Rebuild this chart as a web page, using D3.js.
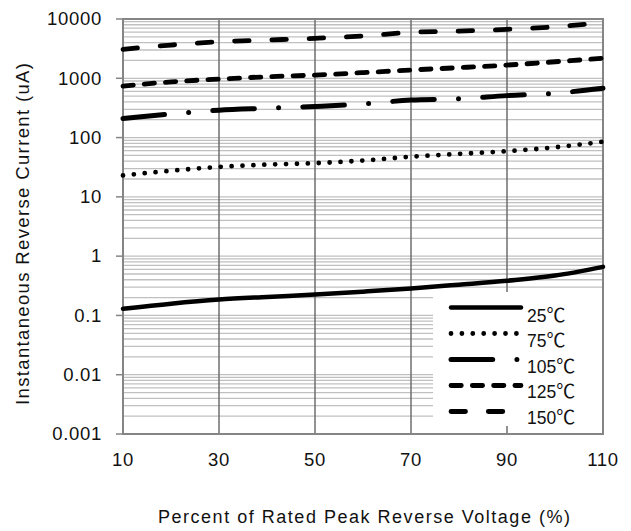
<!DOCTYPE html>
<html>
<head>
<meta charset="utf-8">
<script src="https://cdn.jsdelivr.net/npm/d3@7"></script>
<style>
  html, body { margin: 0; padding: 0; background: #fff; }
  svg { display: block; }
</style>
</head>
<body>
<svg id="chart" width="631" height="531" font-family="Arial, 'Liberation Sans', Helvetica, sans-serif"></svg>
<script>
// ---- data ----
const xValues = [10, 20, 30, 40, 50, 60, 70, 80, 90, 100, 110];
const seriesNames = ["25℃", "75℃", "105℃", "125℃", "150℃"];
const s25  = [0.13, 0.158, 0.185, 0.205, 0.225, 0.252, 0.285, 0.33, 0.385, 0.47, 0.66];
const s75  = [23, 27.6, 32, 35, 37, 41, 47.5, 53, 59, 68.5, 85];
const s105 = [210, 250, 290, 312, 335, 368, 430, 450, 510, 560, 680];
const s125 = [740, 870, 970, 1060, 1135, 1245, 1380, 1510, 1670, 1900, 2170];
const s150 = [3080, 3640, 4140, 4420, 4720, 5160, 5950, 6260, 6700, 7400, 8700];
const xTicks = [10, 30, 50, 70, 90, 110];
const yTicks = [0.001, 0.01, 0.1, 1, 10, 100, 1000, 10000];
const yTickLabels = ["0.001", "0.01", "0.1", "1", "10", "100", "1000", "10000"];
const xTitle = "Percent of Rated Peak Reverse Voltage (%)";
const yTitle = "Instantaneous Reverse Current (uA)";

// ---- layout ----
const svg = d3.select("#chart");
const L = 123, T = 19, W = 480, H = 415;
const x = d3.scaleLinear().domain([10, 110]).range([L, L + W]);
const y = d3.scaleLog().domain([0.001, 10000]).range([T + H, T]);

// minor + major horizontal gridlines
const gridVals = [];
for (let e = -3; e < 4; e++) {
  for (let m = 1; m <= 9; m++) gridVals.push(m * Math.pow(10, e));
}
gridVals.push(10000);
svg.append("g").selectAll("line").data(gridVals).join("line")
  .attr("x1", L).attr("x2", L + W)
  .attr("y1", d => y(d)).attr("y2", d => y(d))
  .attr("stroke", "#c0c0c0").attr("stroke-width", 1.3);

// vertical gridlines
svg.append("g").selectAll("line").data(xTicks.slice(1, -1)).join("line")
  .attr("x1", d => x(d)).attr("x2", d => x(d))
  .attr("y1", T).attr("y2", T + H)
  .attr("stroke", "#6e6e6e").attr("stroke-width", 1.5);

// series
const series = [
  { name: seriesNames[0], values: s25,  dash: null,                 w: 4.5 },
  { name: seriesNames[1], values: s75,  dash: "0 10.9",             w: 4.8 },
  { name: seriesNames[2], values: s105, dash: "41.7 24.2 0 24.2",   w: 5 },
  { name: seriesNames[3], values: s125, dash: "10.3 11",            w: 4.8 },
  { name: seriesNames[4], values: s150, dash: "14.5 22.8",          w: 4.8 }
];
const line = d3.line().x((d, i) => x(xValues[i])).y(d => y(d)).curve(d3.curveMonotoneX);

// legend background (drawn over gridlines, under series lines)
const legX = 433, legY = 292, legW = L + W - 433, legH = 134;
svg.append("rect").attr("x", legX).attr("y", legY).attr("width", legW).attr("height", legH)
  .attr("fill", "#fff");

// border / axes
svg.append("rect").attr("x", L).attr("y", T).attr("width", W).attr("height", H)
  .attr("fill", "none").attr("stroke", "#858585").attr("stroke-width", 2);

const gS = svg.append("g");
series.forEach(s => {
  gS.append("path").datum(s.values).attr("d", line)
    .attr("fill", "none").attr("stroke", "#000")
    .attr("stroke-width", s.w)
    .attr("stroke-linecap", "round")
    .attr("stroke-dasharray", s.dash);
});

// y axis ticks + labels
svg.append("g").selectAll("line").data(yTicks).join("line")
  .attr("x1", L - 7).attr("x2", L).attr("y1", d => y(d)).attr("y2", d => y(d))
  .attr("stroke", "#858585").attr("stroke-width", 1.5);
svg.append("g").selectAll("text").data(yTicks).join("text")
  .attr("x", 102).attr("y", d => y(d) + 6.3)
  .attr("text-anchor", "end").attr("fill", "#111")
  .attr("font-size", 18.5).attr("letter-spacing", 0.7)
  .text((d, i) => yTickLabels[i]);

// x labels
svg.append("g").selectAll("text").data(xTicks).join("text")
  .attr("x", d => x(d)).attr("y", 466)
  .attr("text-anchor", "middle").attr("fill", "#111")
  .attr("font-size", 18.5).attr("letter-spacing", 0.7)
  .text(d => d);

// titles
svg.append("text").attr("x", 364).attr("y", 523)
  .attr("text-anchor", "middle").attr("font-size", 18).attr("fill", "#111")
  .attr("textLength", 412).attr("lengthAdjust", "spacing")
  .text(xTitle);
svg.append("text")
  .attr("transform", "translate(28.5,234) rotate(-90)")
  .attr("text-anchor", "middle").attr("font-size", 18.5).attr("fill", "#111")
  .attr("textLength", 342).attr("lengthAdjust", "spacing")
  .text(yTitle);

// legend
const lg = svg.append("g");
series.forEach((s, i) => {
  const ly = 307.5 + i * 26;
  lg.append("path").attr("d", d3.line()([[451, ly], [521, ly]]))
    .attr("fill", "none").attr("stroke", "#000")
    .attr("stroke-width", s.w).attr("stroke-linecap", "round")
    .attr("stroke-dasharray", s.dash);
  const t = lg.append("text").attr("x", 527).attr("y", 321.5 + i * 25.5)
    .attr("font-size", 17.5).attr("fill", "#111");
  const num = s.name.replace("℃", "");
  t.append("tspan").text(num);
  t.append("tspan").attr("font-family", "'Noto Sans CJK SC', 'DejaVu Sans', sans-serif")
    .attr("font-size", 19).text("℃");
});
</script>
</body>
</html>
